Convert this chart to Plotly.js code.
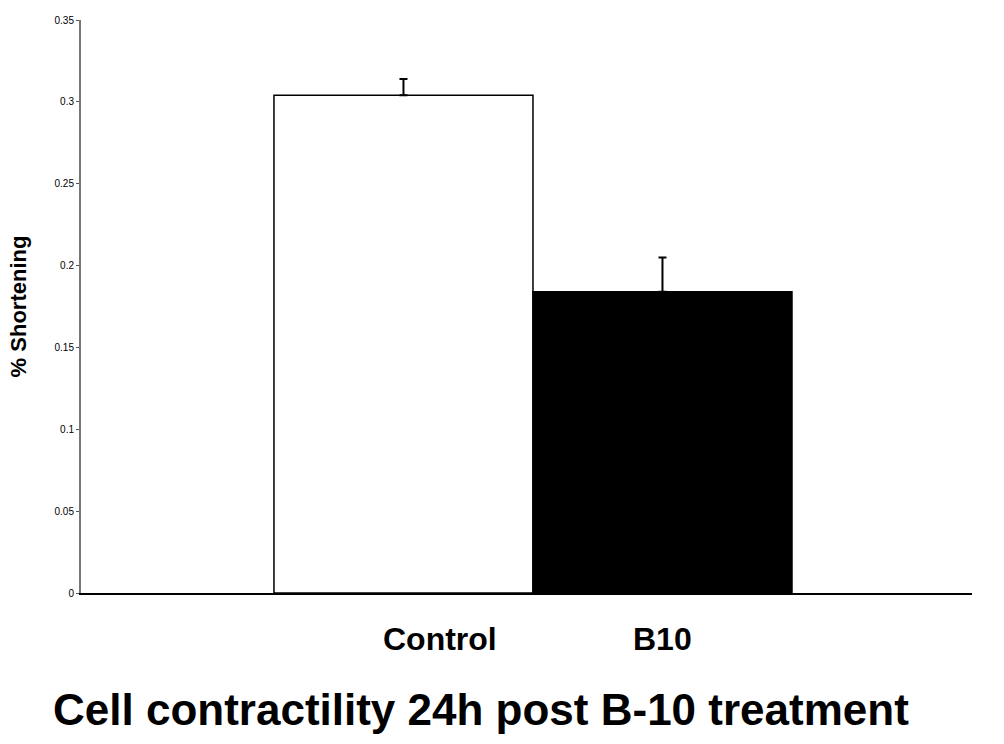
<!DOCTYPE html>
<html>
<head>
<script src="https://cdn.plot.ly/plotly-3.0.1.min.js"></script>
<style>body{margin:0;background:#fff}</style>
</head>
<body>
<div id="chart" style="width:1004px;height:744px"></div>
<script>
var groups = ["Control", "B10"];
var shortening = [0.304, 0.184];
var errUp = [0.010, 0.021];
var barColors = ["#ffffff", "#000000"];
var yTicks = [0, 0.05, 0.1, 0.15, 0.2, 0.25, 0.3, 0.35];
var yTickText = ["0", "0.05", "0.1", "0.15", "0.2", "0.25", "0.3", "0.35"];

var trace = {
  x: groups,
  y: shortening,
  type: 'bar',
  width: 1,
  marker: {color: barColors, line: {color: '#000', width: 1.5}},
  error_y: {type: 'data', symmetric: false, array: errUp, arrayminus: [0, 0],
            color: '#000', thickness: 2, width: 4},
  hoverinfo: 'skip'
};

var labelShift = [37, 0];
var annotations = groups.map(function (g, i) {
  return {x: g, y: 0, xref: 'x', yref: 'y', yanchor: 'top', yshift: -26,
          xshift: labelShift[i], text: '<b>' + g + '</b>', showarrow: false,
          font: {family: 'Liberation Sans, Arial', size: 32, color: '#000'}};
});

var layout = {
  width: 1004, height: 744,
  margin: {l: 81, r: 32, t: 20, b: 151},
  paper_bgcolor: '#fff', plot_bgcolor: '#fff',
  showlegend: false,
  title: {text: '<b>Cell contractility 24h post B-10 treatment</b>',
          x: 0.479, xanchor: 'center', y: 0.046, yanchor: 'middle', yref: 'container',
          font: {family: 'Liberation Sans, Arial', size: 44, color: '#000'}},
  xaxis: {type: 'category', range: [-1.245, 2.195], showticklabels: false, ticks: '',
          showgrid: false, zeroline: false, showline: true, linecolor: '#000', linewidth: 1.5},
  yaxis: {range: [0, 0.35], tickvals: yTicks, ticktext: yTickText,
          ticks: 'outside', ticklen: 3, tickcolor: '#555', showgrid: false, zeroline: false,
          showline: true, linecolor: '#777', linewidth: 2,
          tickfont: {family: 'Liberation Sans, Arial', size: 10, color: '#000'},
          title: {text: '<b>% Shortening</b>', standoff: 22,
                  font: {family: 'Liberation Sans, Arial', size: 22, color: '#000'}}},
  annotations: annotations
};

Plotly.newPlot('chart', [trace], layout, {displayModeBar: false});
</script>
</body>
</html>
